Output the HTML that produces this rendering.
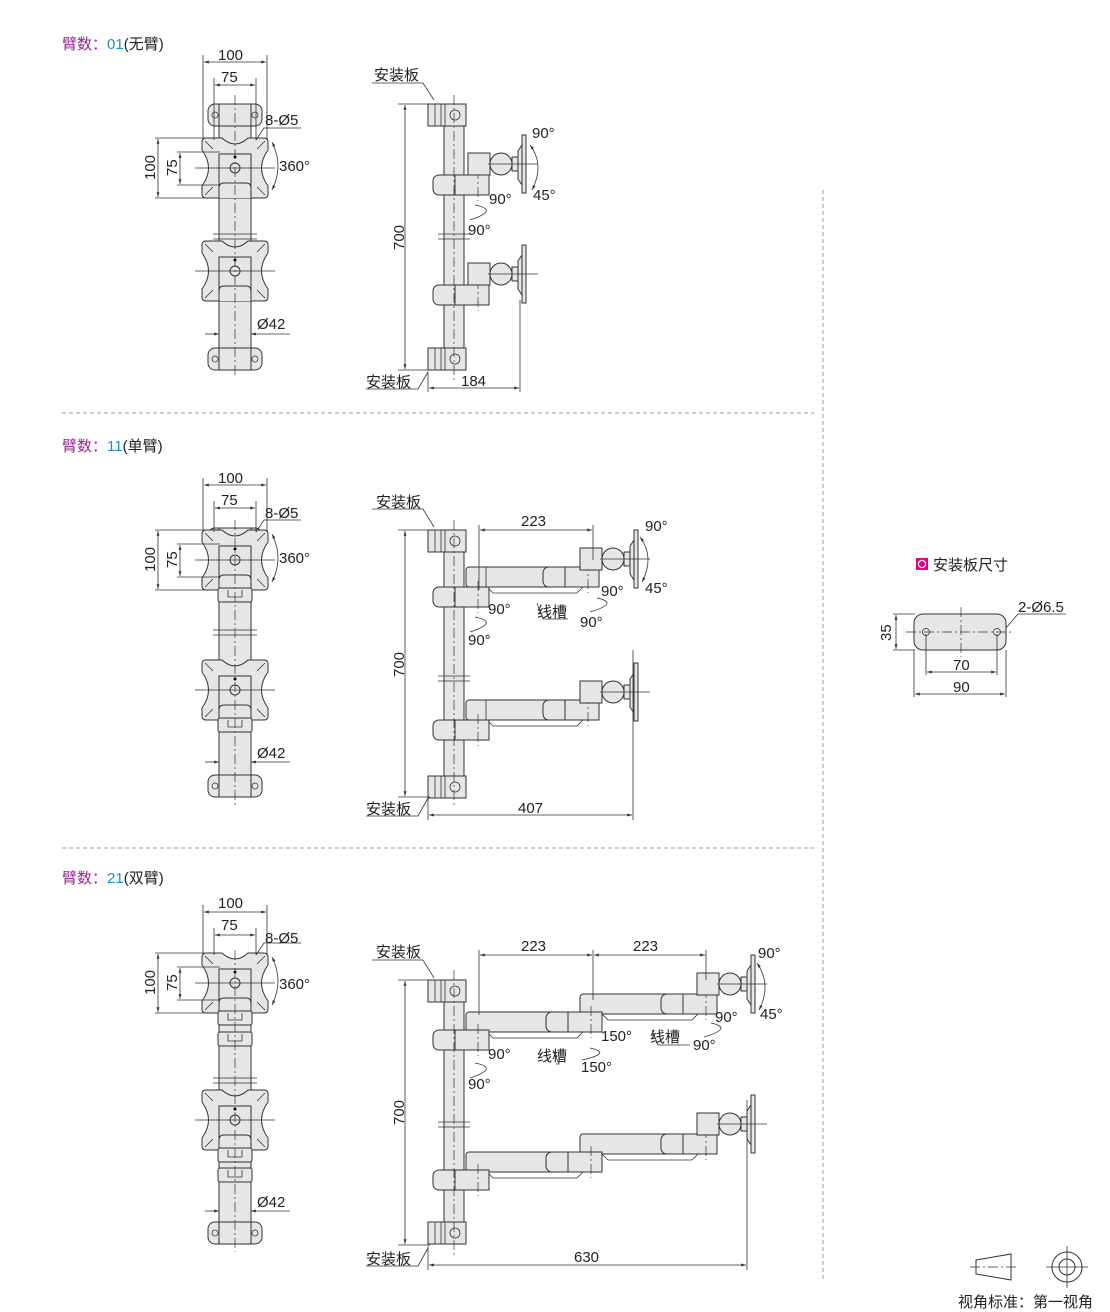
<!DOCTYPE html>
<html><head><meta charset="utf-8"><style>
body{margin:0;background:#fff}
svg{display:block;font-family:"Liberation Sans","Noto Sans CJK SC",sans-serif}
.l{fill:#e6e6e6;stroke:#333;stroke-width:1}
.d{stroke:#333;stroke-width:.8;fill:none}
.c{stroke:#333;stroke-width:.7;stroke-dasharray:10 3 2 3;fill:none}
text{font-size:15px;fill:#222}
</style></head><body>
<svg width="1110" height="1312" viewBox="0 0 1110 1312">
<defs>
<marker id="a" viewBox="0 0 10 10" refX="10" refY="5" markerWidth="8" markerHeight="6" orient="auto-start-reverse"><path d="M0,2L10,5L0,8z" fill="#333"/></marker>
<g id="pl">
<path class="l" d="M-29,-30L-13,-30Q0,-18 13,-30L29,-30Q33,-30 33,-26L33,-18Q20,0 33,18L33,26Q33,30 29,30L13,30Q0,18 -13,30L-29,30Q-33,30 -33,26L-33,18Q-20,0 -33,-18L-33,-26Q-33,-30 -29,-30Z"/>
<rect class="l" x="-16" y="-14" width="32" height="44" stroke="none"/>
<circle class="l" cx="0" cy="0" r="5"/><circle cx="0" cy="-11" r="1.5"/>
<path class="d" d="M-30,-27l8,8M30,-27l-8,8M-30,27l8,-8M30,27l-8,-8M-40,0h80"/>
<path class="l" d="M-16,30v-10q0,-5 5,-5h22q5,0 5,5v10"/>
</g>
<g id="cl"><rect class="l" x="-27" y="0" width="54" height="22" rx="7"/><rect class="l" x="-16" y="0" width="32" height="22"/><circle class="d" cx="-20" cy="11" r="3"/><circle class="d" cx="20" cy="11" r="3"/></g>
<g id="ring"><rect class="l" x="-17" y="0" width="34" height="14" rx="2"/><path class="d" d="M-7,2v7h14v-7"/></g>
<g id="sc"><rect class="l" x="-27" y="0" width="38" height="22"/><path class="d" d="M-20,0v22M-14,0v22M-10,0v22"/><circle class="d" cx="0" cy="11" r="5"/></g>
<g id="head"><rect class="l" x="0" y="-22" width="22" height="22"/><circle class="l" cx="33" cy="-11" r="11"/><path class="l" d="M44,-18h6v14h-6z"/><path class="l" d="M50,-24l4,-6v40l-4,-6z"/><rect class="l" x="54" y="-40" width="4" height="58"/><path class="d" d="M20,-11h50"/></g>
<g id="ac"><rect class="l" x="-22" y="0" width="56" height="20" rx="6"/><rect class="l" x="0" y="0" width="34" height="20"/><path class="c" d="M23,-6v32"/></g>
<g id="fh">
<path class="d" d="M203,55V80M267,55V80M214,78V80M256,78V80"/>
<path class="d" marker-start="url(#a)" marker-end="url(#a)" d="M204,62H266"/>
<path class="d" marker-start="url(#a)" marker-end="url(#a)" d="M215,85H255"/>
</g>
<g id="fd">
<path class="d" d="M155,138H205M177,152H220M155,198H205M177,185H220"/>
<path class="d" marker-start="url(#a)" marker-end="url(#a)" d="M158,139V197"/>
<path class="d" marker-start="url(#a)" marker-end="url(#a)" d="M180,153V184"/>
<path class="d" d="M301,128H264L256,140"/>
<path class="d" marker-start="url(#a)" marker-end="url(#a)" d="M272,142Q284,166 272,190"/>
</g>
</defs>

<path d="M62,413H814M62,848H814M823,190V1280" stroke="#999" stroke-width="1" stroke-dasharray="4 3"/>

<text x="62" y="49"><tspan fill="#93278f">臂数：</tspan><tspan fill="#1a8fc7">01</tspan>(无臂)</text>
<text x="62" y="451"><tspan fill="#93278f">臂数：</tspan><tspan fill="#1a8fc7">11</tspan>(单臂)</text>
<text x="62" y="883"><tspan fill="#93278f">臂数：</tspan><tspan fill="#1a8fc7">21</tspan>(双臂)</text>

<!-- FRONT VIEWS -->
<rect class="l" x="219" y="110" width="32" height="255"/>
<use href="#cl" x="235" y="104"/>
<use href="#pl" x="235" y="168"/>
<use href="#pl" x="235" y="271"/>
<use href="#cl" x="235" y="348"/>
<path class="d" d="M213,234h44M213,239h44"/><path class="c" d="M235,95V378"/>

<rect class="l" x="219" y="535" width="32" height="255"/>
<use href="#cl" x="235" y="528"/>
<use href="#pl" x="235" y="560"/>
<use href="#ring" x="235" y="588"/>
<use href="#pl" x="235" y="690"/>
<use href="#ring" x="235" y="718"/>
<use href="#cl" x="235" y="775"/>
<path class="d" d="M213,630h44M213,635h44"/><path class="c" d="M235,520V805"/>

<rect class="l" x="219" y="960" width="32" height="280"/>
<use href="#pl" x="235" y="983"/>
<use href="#ring" x="235" y="1011"/>
<use href="#ring" x="235" y="1032"/>
<use href="#pl" x="235" y="1120"/>
<use href="#ring" x="235" y="1148"/>
<use href="#ring" x="235" y="1168"/>
<use href="#cl" x="235" y="1222"/>
<path class="d" d="M213,1078h44M213,1083h44"/><path class="c" d="M235,950V1252"/>

<use href="#fh"/><use href="#fh" y="423"/><use href="#fh" y="850"/>
<path class="d" d="M203,80V140M267,80V140M214,80V140M256,80V140"/>
<path class="d" d="M203,503V532M267,503V532M214,503V532M256,503V532"/>
<path class="d" d="M203,930V955M267,930V955M214,930V955M256,930V955"/>
<use href="#fd"/><use href="#fd" y="392"/><use href="#fd" y="815"/>
<path class="d" marker-end="url(#a)" d="M205,334H219"/><path class="d" marker-end="url(#a)" d="M290,334H251"/>
<path class="d" marker-end="url(#a)" d="M205,762H219"/><path class="d" marker-end="url(#a)" d="M290,762H251"/>
<path class="d" marker-end="url(#a)" d="M205,1211H219"/><path class="d" marker-end="url(#a)" d="M290,1211H251"/>

<g>
<text x="218" y="60">100</text><text x="221" y="82">75</text><text x="265" y="125">8-Ø5</text><text x="279" y="171">360°</text>
<text transform="translate(155,180) rotate(-90)">100</text><text transform="translate(177,176) rotate(-90)">75</text><text x="257" y="329">Ø42</text>
<text x="218" y="483">100</text><text x="221" y="505">75</text><text x="265" y="518">8-Ø5</text><text x="279" y="563">360°</text>
<text transform="translate(155,572) rotate(-90)">100</text><text transform="translate(177,568) rotate(-90)">75</text><text x="257" y="758">Ø42</text>
<text x="218" y="908">100</text><text x="221" y="930">75</text><text x="265" y="943">8-Ø5</text><text x="279" y="989">360°</text>
<text transform="translate(155,995) rotate(-90)">100</text><text transform="translate(177,991) rotate(-90)">75</text><text x="257" y="1207">Ø42</text>
</g>

<!-- SIDE VIEWS -->
<rect class="l" x="444" y="115" width="20" height="240"/>
<use href="#sc" x="455" y="104"/><use href="#sc" x="455" y="348"/>
<use href="#ac" x="455" y="175"/><use href="#head" x="468" y="175"/>
<use href="#ac" x="455" y="285"/><use href="#head" x="468" y="285"/>
<path class="c" d="M454,95V380"/><path class="d" d="M438,234h32M438,239h32"/>

<rect class="l" x="444" y="540" width="20" height="245"/>
<use href="#sc" x="455" y="530"/><use href="#sc" x="455" y="776"/>
<rect class="l" x="466" y="567" width="131" height="20" rx="3"/><path class="d" d="M486,567v20M487,587l6,6h84l6,-6"/>
<use href="#ac" x="455" y="587"/><use href="#ac" x="565" y="567"/><use href="#head" x="580" y="570"/>
<rect class="l" x="466" y="700" width="131" height="20" rx="3"/><path class="d" d="M486,700v20M487,720l6,6h84l6,-6"/>
<use href="#ac" x="455" y="720"/><use href="#ac" x="565" y="700"/><use href="#head" x="580" y="703"/>
<path class="c" d="M454,520V805"/><path class="d" d="M438,676h32M438,681h32"/>

<rect class="l" x="444" y="990" width="20" height="245"/>
<use href="#sc" x="455" y="980"/><use href="#sc" x="455" y="1222"/>
<rect class="l" x="466" y="1012" width="134" height="20" rx="3"/><path class="d" d="M487,1032l6,6h84l6,-6"/>
<rect class="l" x="580" y="994" width="135" height="20" rx="3"/><path class="d" d="M602,1014l6,6h84l6,-6"/>
<use href="#ac" x="455" y="1030"/><use href="#ac" x="568" y="1012"/><use href="#ac" x="683" y="994"/><use href="#head" x="697" y="995"/>
<rect class="l" x="466" y="1152" width="134" height="20" rx="3"/><path class="d" d="M487,1172l6,6h84l6,-6"/>
<rect class="l" x="580" y="1134" width="135" height="20" rx="3"/><path class="d" d="M602,1154l6,6h84l6,-6"/>
<use href="#ac" x="455" y="1170"/><use href="#ac" x="568" y="1152"/><use href="#ac" x="683" y="1134"/><use href="#head" x="697" y="1135"/>
<path class="c" d="M454,970V1255"/><path class="d" d="M438,1122h32M438,1127h32"/>

<path class="d" d="M398,104H430M398,370H430M428,372V392M520,300V392M398,530H430M398,797H430M428,798V820M633,650V820M398,980H430M398,1245H430M428,1246V1270M747,1100V1270M479,525V590M593,525V560M479,950V1015M593,950V1000M706,950V980"/>
<path class="d" marker-start="url(#a)" marker-end="url(#a)" d="M405,105V369"/>
<path class="d" marker-start="url(#a)" marker-end="url(#a)" d="M429,388H519"/>
<path class="d" marker-start="url(#a)" marker-end="url(#a)" d="M405,531V796"/>
<path class="d" marker-start="url(#a)" marker-end="url(#a)" d="M429,815H632"/>
<path class="d" marker-start="url(#a)" marker-end="url(#a)" d="M405,981V1244"/>
<path class="d" marker-start="url(#a)" marker-end="url(#a)" d="M429,1265H746"/>
<path class="d" marker-start="url(#a)" marker-end="url(#a)" d="M480,530H592"/>
<path class="d" marker-start="url(#a)" marker-end="url(#a)" d="M480,955H592"/>
<path class="d" marker-start="url(#a)" marker-end="url(#a)" d="M594,955H705"/>
<path class="d" d="M372,83H423L434,100M366,389H418L428,372M372,509H423L434,527M366,816H418L428,798M372,960H423L434,978M366,1266H418L428,1248"/>
<path class="d" marker-start="url(#a)" marker-end="url(#a)" d="M530,145Q545,165 532,190"/>
<path class="d" marker-start="url(#a)" marker-end="url(#a)" d="M640,537Q655,557 642,582"/>
<path class="d" marker-start="url(#a)" marker-end="url(#a)" d="M757,963Q772,985 759,1010"/>
<path class="d" d="M475,205Q500,210 470,220M475,617Q500,622 470,632M475,1063Q500,1068 470,1078M597,598Q620,603 590,612M711,1023Q734,1028 704,1037M590,1048Q613,1053 582,1060"/>
<path class="d" d="M537,603l6,16h25M652,1030l6,15h32M553,1050l6,14h-3"/>

<g>
<text x="374" y="80">安装板</text><text x="366" y="387">安装板</text>
<text transform="translate(404,250) rotate(-90)">700</text><text x="461" y="386">184</text>
<text x="532" y="138">90°</text><text x="533" y="200">45°</text><text x="489" y="204">90°</text><text x="468" y="235">90°</text>
<text x="376" y="507">安装板</text><text x="366" y="814">安装板</text>
<text transform="translate(404,677) rotate(-90)">700</text><text x="518" y="813">407</text><text x="521" y="526">223</text>
<text x="645" y="531">90°</text><text x="645" y="593">45°</text><text x="601" y="596">90°</text><text x="488" y="614">90°</text><text x="537" y="617">线槽</text><text x="580" y="627">90°</text><text x="468" y="645">90°</text>
<text x="376" y="957">安装板</text><text x="366" y="1264">安装板</text>
<text transform="translate(404,1125) rotate(-90)">700</text><text x="574" y="1262">630</text><text x="521" y="951">223</text><text x="633" y="951">223</text>
<text x="758" y="958">90°</text><text x="760" y="1019">45°</text><text x="715" y="1022">90°</text><text x="693" y="1050">90°</text><text x="650" y="1042">线槽</text><text x="601" y="1041">150°</text><text x="581" y="1072">150°</text><text x="488" y="1059">90°</text><text x="537" y="1061">线槽</text><text x="468" y="1089">90°</text>
</g>

<rect x="916" y="558" width="12" height="12" fill="#e4007f"/><circle cx="922" cy="564" r="3.6" fill="none" stroke="#fff" stroke-width="1.2"/>
<text x="933" y="570">安装板尺寸</text>
<rect class="l" x="914" y="614" width="92" height="36" rx="9"/>
<circle class="d" cx="926" cy="632" r="3.5"/><circle class="d" cx="997" cy="632" r="3.5"/>
<path class="c" d="M906,632H1014M961,607V657"/>
<path class="d" d="M893,614H915M893,650H915M926,634V675M997,634V675M914,650V697M1006,650V697M1006,628L1018,614H1066"/>
<path class="d" marker-start="url(#a)" marker-end="url(#a)" d="M896,615V649"/>
<path class="d" marker-start="url(#a)" marker-end="url(#a)" d="M927,672H996"/>
<path class="d" marker-start="url(#a)" marker-end="url(#a)" d="M915,694H1005"/>
<text x="1018" y="612">2-Ø6.5</text>
<text transform="translate(891,641) rotate(-90)">35</text>
<text x="953" y="670">70</text><text x="953" y="692">90</text>

<path d="M976,1260L1011,1254V1280L976,1274Z" fill="none" stroke="#333"/>
<path class="c" d="M970,1267H1018"/>
<circle cx="1067" cy="1267" r="15" fill="none" stroke="#333"/><circle cx="1067" cy="1267" r="8" fill="none" stroke="#333"/>
<path class="d" d="M1046,1267H1088M1067,1246V1288"/>
<text x="958" y="1307">视角标准：第一视角</text>
</svg>
</body></html>
